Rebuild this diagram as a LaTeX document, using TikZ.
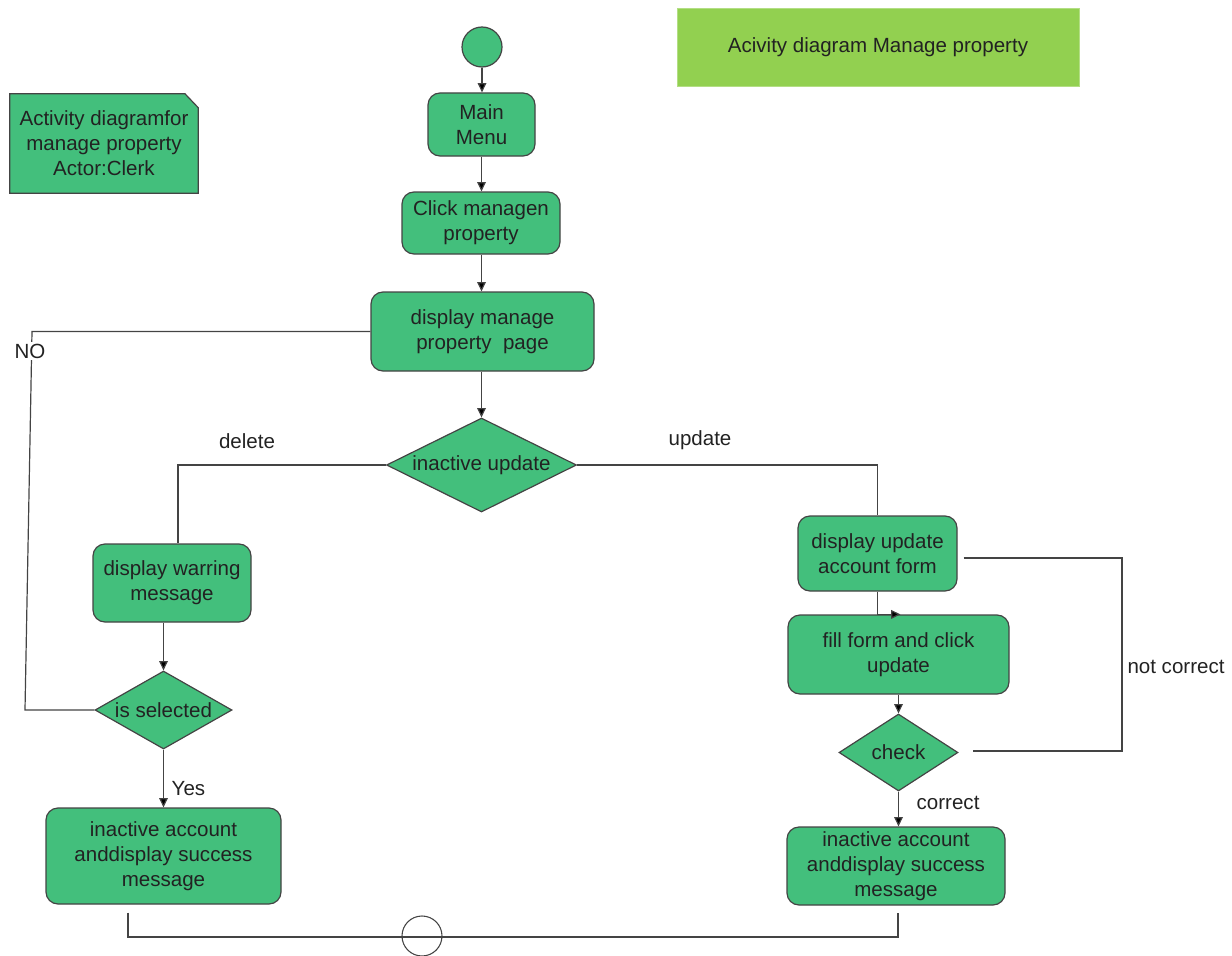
\documentclass[tikz,border=0pt]{standalone}
\usepackage{fontspec}
\setmainfont{Liberation Sans}
\usetikzlibrary{shapes.geometric,arrows.meta,calc,backgrounds}
\definecolor{actgreen}{RGB}{67,191,124}
\definecolor{titlegreen}{RGB}{146,208,80}
\definecolor{edge}{RGB}{68,68,68}
\definecolor{ink}{RGB}{34,34,34}

\begin{document}
\begin{tikzpicture}[x=0.75pt,y=-0.75pt,
  every node/.style={font=\fontsize{15.4}{18.75}\selectfont, text=ink},
  line/.style={draw=edge, line width=0.9pt},
  arr/.style={line, -{Triangle[length=7pt,width=6.5pt,fill=black]}},
  act/.style 2 args={draw=edge, line width=0.9pt, fill=actgreen, rounded corners=9pt,
    align=center, inner sep=0pt, minimum width=#1*0.75pt, minimum height=#2*0.75pt},
  decision/.style n args={3}{diamond, draw=edge, line width=0.9pt, fill=actgreen,
    inner sep=0pt, minimum width=#1*0.75pt, minimum height=#2*0.75pt,
    label={center:#3}},
  guard/.style={inner sep=1pt}
]
\useasboundingbox (0,0) rectangle (1232,956);

% title banner
\node[draw=titlegreen!70!white, fill=titlegreen, minimum width=402*0.75pt,
      minimum height=78*0.75pt, inner sep=0pt] (title) at (878,47)
      {Acivity diagram Manage property};

% note with folded corner
\node[align=center, inner sep=0pt, minimum width=188*0.75pt, minimum height=99*0.75pt]
      (note) at (104,143.5) {Activity diagramfor\\manage property\\Actor:Clerk};
\begin{pgfonlayer}{background}
  \filldraw[fill=actgreen, draw=edge, line width=0.9pt]
    (note.north west) -- ([xshift=-10pt]note.north east)
    -- ([yshift=-10.5pt]note.north east) -- (note.south east)
    -- (note.south west) -- cycle;
\end{pgfonlayer}

% activity nodes
\node[circle, draw=edge, line width=0.9pt, fill=actgreen, minimum size=30pt, inner sep=0pt]
      (start) at (482,47) {};
\node[act={107}{63}] (main) at (481.5,124.5) {Main\\Menu};
\node[act={158}{62}] (click) at (481,223) {Click managen\\property};
\node[act={223}{79}] (disp) at (482.5,331.5) {display manage\\property~ page};
\node[decision={190}{94}{inactive update}] (dec) at (481.5,465) {};
\node[act={158}{78}] (warn) at (172,583) {display warring\\message};
\node[decision={137}{78}{is selected}] (sel) at (163.5,710) {};
\node[act={235}{96}] (inL) at (163.5,856) {inactive account\\anddisplay success\\message};
\node[act={159}{75}] (upd) at (877.5,553.5) {display update\\account form};
\node[act={221}{79}] (fill) at (898.5,654.5) {fill form and click\\update};
\node[decision={119}{77}{check}] (chk) at (898.5,752.5) {};
\node[act={218}{78}] (inR) at (896,866) {inactive account\\anddisplay success\\message};
\node[circle, draw=edge, line width=0.8pt, minimum size=30pt, inner sep=0pt]
      (join) at (422,936) {};

% main flow
\draw[arr] (start.south) -- (start.south |- main.north);
\draw[arr] (main.south) -- (main.south |- click.north);
\draw[arr] (click.south -| main.south) -- (main.south |- disp.north);
\draw[arr] (disp.south -| dec.north) -- (dec.north);

% delete branch
\draw[line] (dec.west) -| ([xshift=4.5pt]warn.north);
\node at (247,441) {delete};
\draw[arr] (sel.north |- warn.south) -- (sel.north);
\draw[arr] (sel.south) -- (inL.north);
\node[anchor=west] at (167,789) {Yes};

% NO loop back to the page
\coordinate (noTop) at (32,331.5);
\coordinate (noBot) at (25,710);
\draw[line] (disp.west) -- (noTop) -- (noBot) -- (sel.west);
\node[fill=white, guard] at (30,351) {NO};

% update branch
\draw[line] (dec.east) -| (upd.north);
\node at (700,440) {update};
\draw[arr] (upd.south) |- ($(fill.north)+(2,0)$);
\draw[arr] (fill.south) -- (chk.north);
\draw[arr] (chk.south) -- (chk.south |- inR.north);
\node[anchor=west] at (912,803) {correct};

% not correct loop
\coordinate (ncTop) at (1122,558);
\coordinate (ncBot) at (1122,751);
\draw[line] ([shift={(6,4.5)}]upd.east) -- (ncTop) -- (ncBot) -- ([shift={(14,-1.5)}]chk.east);
\node at (1176,667) {not correct};

% merge at the bottom
\coordinate (mL) at (128,937);
\coordinate (mR) at (898,937);
\draw[line] ([shift={(-35.5,8)}]inL.south) -- (mL) -- (mR) -- ([shift={(2,7)}]inR.south);
\end{tikzpicture}
\end{document}
